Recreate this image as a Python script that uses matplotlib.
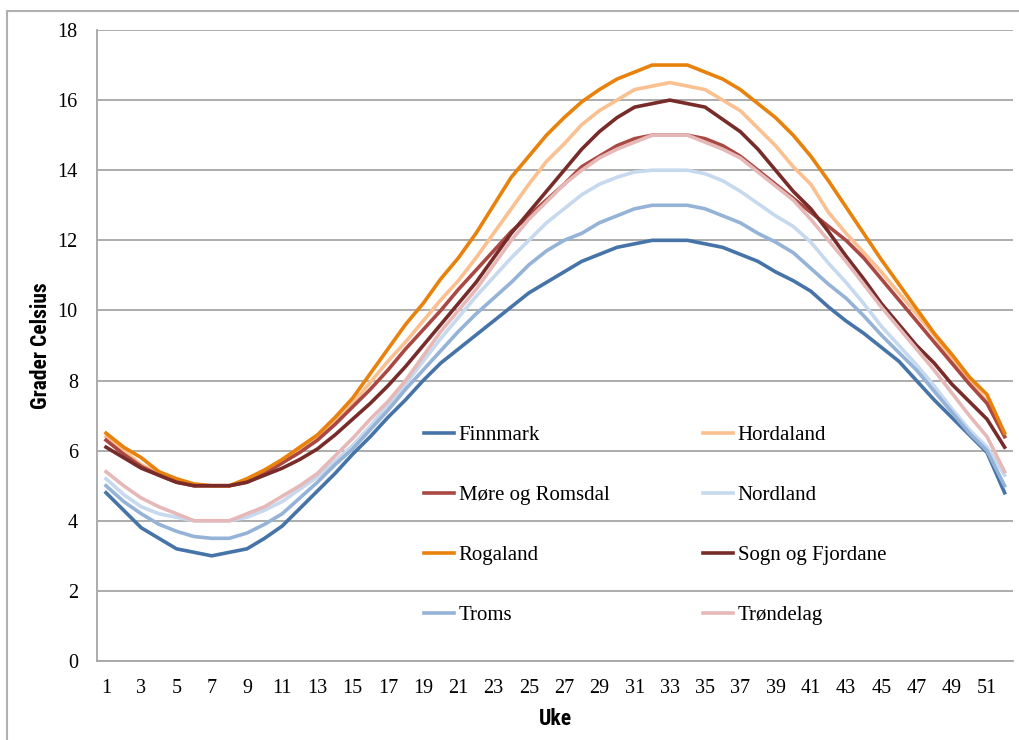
import matplotlib
matplotlib.use("Agg")
import matplotlib.pyplot as plt
from matplotlib.patches import Rectangle
from matplotlib.ticker import FixedLocator
from matplotlib import font_manager

weeks = list(range(1, 53))
tick_weeks = list(range(1, 52, 2))
y_ticks = list(range(0, 19, 2))

finnmark = [4.8, 4.3, 3.8, 3.5, 3.2, 3.1, 3.0, 3.1, 3.2, 3.5, 3.85, 4.35, 4.85, 5.35, 5.9, 6.4, 6.95, 7.45, 8.0, 8.5,
            8.9, 9.3, 9.7, 10.1, 10.5, 10.8, 11.1, 11.4, 11.6, 11.8, 11.9, 12.0, 12.0, 12.0, 11.9, 11.8, 11.6, 11.4, 11.1, 10.85,
            10.55, 10.1, 9.7, 9.35, 8.95, 8.55, 8.0, 7.45, 6.95, 6.45, 5.95, 4.8]
hordaland = [6.4, 6.0, 5.6, 5.35, 5.15, 5.0, 5.0, 5.0, 5.15, 5.35, 5.65, 6.0, 6.35, 6.85, 7.35, 7.95, 8.55, 9.1, 9.7, 10.3,
             10.85, 11.5, 12.2, 12.9, 13.6, 14.25, 14.75, 15.3, 15.7, 16.0, 16.3, 16.4, 16.5, 16.4, 16.3, 16.0, 15.7, 15.2, 14.7, 14.1,
             13.6, 12.8, 12.2, 11.65, 11.1, 10.5, 9.9, 9.3, 8.6, 8.0, 7.4, 6.4]
more_romsdal = [6.3, 5.9, 5.55, 5.3, 5.1, 5.0, 5.0, 5.0, 5.1, 5.35, 5.65, 5.95, 6.3, 6.75, 7.25, 7.75, 8.3, 8.9, 9.45, 10.0,
                10.6, 11.15, 11.7, 12.25, 12.7, 13.15, 13.6, 14.1, 14.4, 14.7, 14.9, 15.0, 15.0, 15.0, 14.9, 14.7, 14.4, 14.0, 13.6, 13.2,
                12.8, 12.4, 12.0, 11.5, 10.9, 10.3, 9.7, 9.1, 8.5, 7.9, 7.35, 6.4]
nordland = [5.2, 4.75, 4.4, 4.2, 4.1, 4.0, 4.0, 4.0, 4.1, 4.3, 4.55, 4.9, 5.25, 5.7, 6.15, 6.7, 7.3, 7.9, 8.55, 9.2,
            9.8, 10.4, 10.95, 11.5, 12.0, 12.5, 12.9, 13.3, 13.6, 13.8, 13.95, 14.0, 14.0, 14.0, 13.9, 13.7, 13.4, 13.05, 12.7, 12.4,
            11.95, 11.35, 10.8, 10.2, 9.55, 9.0, 8.45, 7.85, 7.2, 6.6, 6.1, 5.3]
rogaland = [6.5, 6.1, 5.8, 5.4, 5.2, 5.05, 5.0, 5.0, 5.2, 5.45, 5.75, 6.1, 6.45, 6.95, 7.5, 8.2, 8.9, 9.6, 10.2, 10.9,
            11.5, 12.2, 13.0, 13.8, 14.4, 15.0, 15.5, 15.95, 16.3, 16.6, 16.8, 17.0, 17.0, 17.0, 16.8, 16.6, 16.3, 15.9, 15.5, 15.0,
            14.4, 13.7, 12.95, 12.2, 11.45, 10.75, 10.05, 9.35, 8.75, 8.1, 7.6, 6.5]
sogn_fjordane = [6.1, 5.8, 5.5, 5.3, 5.1, 5.0, 5.0, 5.0, 5.1, 5.3, 5.5, 5.75, 6.05, 6.45, 6.9, 7.35, 7.85, 8.4, 9.0, 9.6,
                 10.2, 10.8, 11.5, 12.2, 12.8, 13.4, 14.0, 14.6, 15.1, 15.5, 15.8, 15.9, 16.0, 15.9, 15.8, 15.45, 15.1, 14.6, 14.0, 13.4,
                 12.9, 12.25, 11.55, 10.9, 10.2, 9.6, 9.0, 8.5, 7.9, 7.4, 6.9, 6.1]
troms = [5.0, 4.55, 4.2, 3.9, 3.7, 3.55, 3.5, 3.5, 3.65, 3.9, 4.2, 4.65, 5.1, 5.6, 6.05, 6.6, 7.15, 7.75, 8.3, 8.85,
         9.4, 9.9, 10.35, 10.8, 11.3, 11.7, 12.0, 12.2, 12.5, 12.7, 12.9, 13.0, 13.0, 13.0, 12.9, 12.7, 12.5, 12.2, 11.95, 11.65,
         11.2, 10.75, 10.35, 9.85, 9.3, 8.8, 8.3, 7.7, 7.1, 6.5, 6.0, 5.0]
trondelag = [5.4, 5.0, 4.65, 4.4, 4.2, 4.0, 4.0, 4.0, 4.2, 4.4, 4.7, 5.0, 5.35, 5.85, 6.35, 6.9, 7.4, 8.0, 8.7, 9.4,
             10.0, 10.6, 11.3, 12.0, 12.6, 13.1, 13.6, 14.0, 14.35, 14.6, 14.8, 15.0, 15.0, 15.0, 14.8, 14.6, 14.35, 13.95, 13.55, 13.15,
             12.6, 12.0, 11.4, 10.75, 10.1, 9.5, 8.9, 8.3, 7.65, 7.0, 6.4, 5.4]

series_names = ["Finnmark", "Hordaland", "Møre og Romsdal", "Nordland",
                "Rogaland", "Sogn og Fjordane", "Troms", "Trøndelag"]
series_values = [finnmark, hordaland, more_romsdal, nordland,
                 rogaland, sogn_fjordane, troms, trondelag]
series_colors = ["#4674A8", "#FAC090", "#AA4843", "#C6D9EE",
                 "#E8820C", "#772C2A", "#95B3D7", "#E6B9B8"]

serif = ["Liberation Serif", "DejaVu Serif"]
available = {f.name for f in font_manager.fontManager.ttflist}
narrow_candidates = ["Liberation Sans Narrow", "Roboto Condensed", "Open Sans Condensed", "DejaVu Sans"]
label_font = [f for f in narrow_candidates if f in available] or ["DejaVu Sans"]
is_narrow = label_font[0] != "DejaVu Sans"
label_size = 15.5 if is_narrow else 12

W, H = 1019, 740
fig = plt.figure(figsize=(W / 100, H / 100), dpi=100)
ax = fig.add_axes([97.2 / W, 1 - 661 / H, (1013.4 - 97.2) / W, (661 - 30) / H])

lines = {}
for name, vals, col in zip(series_names, series_values, series_colors):
    ln, = ax.plot(weeks, vals, color=col, lw=2.6, label=name, solid_joinstyle="miter")
    lines[name] = ln

ax.set_xlim(0.5, 52.5)
ax.set_ylim(0, 18)
ax.xaxis.set_major_locator(FixedLocator(tick_weeks))
ax.set_xticklabels([str(w) for w in tick_weeks], fontfamily=serif, fontsize=14.5)
ax.yaxis.set_major_locator(FixedLocator(y_ticks))
ax.set_yticklabels([str(v) for v in y_ticks], fontfamily=serif, fontsize=14.5)
ax.tick_params(axis="both", length=0)
ax.tick_params(axis="y", pad=14)
ax.tick_params(axis="x", pad=13)
ax.grid(axis="y", color="#A6A6A6", lw=1.3)
ax.set_axisbelow(True)
for side in ["top", "right"]:
    ax.spines[side].set_visible(False)
for side in ["left", "bottom"]:
    ax.spines[side].set_color("#A6A6A6")
    ax.spines[side].set_linewidth(1.3)

ax.set_xlabel("Uke", fontfamily=label_font, fontweight="bold", fontsize=label_size,
              fontstretch="condensed", labelpad=7)
ax.set_ylabel("Grader Celsius", fontfamily=label_font, fontweight="bold", fontsize=label_size,
              fontstretch="condensed", labelpad=4)

order = ["Finnmark", "Møre og Romsdal", "Rogaland", "Troms",
         "Hordaland", "Nordland", "Sogn og Fjordane", "Trøndelag"]
leg = ax.legend([lines[n] for n in order], order, ncol=2, loc="upper left",
                bbox_to_anchor=(0.357, 0.373), frameon=False,
                prop={"family": serif, "size": 15}, handlelength=1.45,
                handletextpad=0.2, columnspacing=4.5, labelspacing=1.94,
                borderpad=0, borderaxespad=0)

border = Rectangle((7 / W, -0.05), 1.1, 1 - 11 / H + 0.05, transform=fig.transFigure,
                   fill=False, edgecolor="#B0B0B0", lw=1.5, clip_on=False)
fig.patches.append(border)

fig.savefig("out.png", dpi=100)
